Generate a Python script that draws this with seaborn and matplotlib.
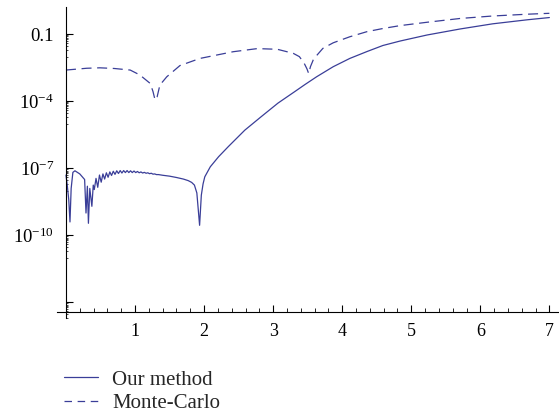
import numpy as np
import pandas as pd
import matplotlib
matplotlib.use("Agg")
import matplotlib.pyplot as plt
import matplotlib.ticker as mticker
from matplotlib.lines import Line2D
import seaborn as sns

# ---- data (log10 of the error) ----
ours_x = [0.000, 0.020, 0.040, 0.058, 0.075, 0.100, 0.130, 0.200, 0.270, 0.290,
          0.310, 0.325, 0.345, 0.375, 0.395,
          0.410, 0.435, 0.460, 0.485, 0.510, 0.535, 0.560, 0.585, 0.610, 0.635,
          0.660, 0.685, 0.710, 0.735, 0.760, 0.785, 0.810, 0.835, 0.860, 0.885,
          0.910, 0.935, 0.960, 0.985, 1.010, 1.035, 1.060, 1.085, 1.110, 1.135,
          1.160, 1.185, 1.210, 1.235, 1.260, 1.285, 1.310, 1.340, 1.400, 1.500,
          1.600, 1.700, 1.770, 1.820, 1.860, 1.895, 1.935, 1.960, 1.985, 2.010,
          2.090, 2.210, 2.350, 2.590, 2.830, 3.070, 3.320, 3.460, 3.630, 3.870,
          4.110, 4.360, 4.590, 4.840, 5.230, 5.710, 6.180, 6.680, 7.000]
ours_log = [-7.30, -7.80, -8.40, -9.40, -7.90, -7.18, -7.11, -7.25, -7.50, -9.00,
            -7.80, -9.46, -7.90, -8.70, -7.75,
            -7.95, -7.45, -7.85, -7.30, -7.62, -7.25, -7.48, -7.20, -7.40, -7.16,
            -7.32, -7.13, -7.27, -7.11, -7.23, -7.10, -7.21, -7.10, -7.19, -7.10,
            -7.19, -7.11, -7.19, -7.12, -7.19, -7.14, -7.20, -7.16, -7.21, -7.18,
            -7.22, -7.20, -7.24, -7.22, -7.26, -7.25, -7.28, -7.28, -7.31, -7.35,
            -7.41, -7.48, -7.55, -7.63, -7.75, -8.10, -9.55, -8.20, -7.70, -7.38,
            -6.93, -6.48, -6.03, -5.29, -4.68, -4.08, -3.55, -3.25, -2.90, -2.45,
            -2.08, -1.77, -1.50, -1.30, -1.03, -0.76, -0.53, -0.35, -0.25]

mc_x = [0.000, 0.300, 0.490, 0.700, 0.930, 1.070, 1.220, 1.260, 1.290, 1.320,
        1.360, 1.460, 1.650, 1.940, 2.420, 2.770, 3.060, 3.290, 3.380, 3.450,
        3.490, 3.515, 3.540, 3.580, 3.630, 3.720, 3.870, 4.110, 4.360, 4.590,
        4.840, 5.230, 5.710, 6.180, 6.680, 7.000]
mc_log = [-2.60, -2.52, -2.50, -2.53, -2.60, -2.82, -3.20, -3.56, -3.94, -3.80,
          -3.27, -2.90, -2.40, -2.08, -1.78, -1.64, -1.67, -1.85, -2.00, -2.30,
          -2.55, -2.76, -2.45, -2.15, -1.95, -1.63, -1.38, -1.11, -0.88, -0.74,
          -0.61, -0.46, -0.29, -0.18, -0.10, -0.06]

series_names = ["Our method", "Monte-Carlo"]
x_tick_vals = [1, 2, 3, 4, 5, 6, 7]
y_tick_exps = [-13, -10, -7, -4, -1]
y_tick_labels = ["", r"$10^{-10}$", r"$10^{-7}$", r"$10^{-4}$", "0.1"]

df = pd.concat([
    pd.DataFrame({"x": ours_x, "y": np.power(10.0, ours_log), "method": series_names[0]}),
    pd.DataFrame({"x": mc_x, "y": np.power(10.0, mc_log), "method": series_names[1]}),
], ignore_index=True)

sns.set_theme(style="white")
plt.rcParams["font.family"] = ["Liberation Serif", "DejaVu Serif"]
plt.rcParams["mathtext.fontset"] = "custom"
plt.rcParams["mathtext.rm"] = "Liberation Serif"
plt.rcParams["mathtext.it"] = "Liberation Serif:italic"
plt.rcParams["mathtext.bf"] = "Liberation Serif:bold"

color = "#3a3e98"
W, H = 559, 417
fig = plt.figure(figsize=(W / 100, H / 100), dpi=100)
ax = fig.add_axes([57 / W, 1 - 318 / H, (558 - 57) / W, (318 - 6.7) / H])

sns.lineplot(data=df, x="x", y="y", hue="method", style="method",
             palette=[color, color], dashes={series_names[0]: "", series_names[1]: (8, 4.5)},
             estimator=None, sort=False, linewidth=0.9, legend=False, ax=ax)

ax.set_yscale("log")
ax.set_xlim(-0.130, 7.125)
ax.set_ylim(10 ** -13.70, 10 ** 0.236)

for s in ["top", "right"]:
    ax.spines[s].set_visible(False)
ax.spines["left"].set_position(("data", 0))
ax.spines["bottom"].set_position(("data", 10 ** -13.42))
for s in ["left", "bottom"]:
    ax.spines[s].set_color("black")
    ax.spines[s].set_linewidth(0.8)

ax.set_xticks(x_tick_vals)
ax.set_xticklabels([str(v) for v in x_tick_vals])
ax.xaxis.set_minor_locator(mticker.FixedLocator(
    [v / 5 for v in range(1, 36) if v % 5 != 0]))
ax.set_yticks([10.0 ** e for e in y_tick_exps])
ax.set_yticklabels(y_tick_labels)
ax.yaxis.set_minor_locator(mticker.FixedLocator(
    [m * 10.0 ** (e - 1) for e in y_tick_exps for m in range(1, 10)]))
ax.yaxis.set_minor_formatter(mticker.NullFormatter())

ax.tick_params(axis="x", which="major", direction="in", length=5, width=0.8,
               colors="black", labelsize=13, pad=8, bottom=True)
ax.tick_params(axis="x", which="minor", direction="in", length=3, width=0.6,
               colors="black", bottom=True)
ax.tick_params(axis="y", which="major", direction="in", length=5, width=0.8,
               colors="black", labelsize=13.5, pad=8.5, left=True)
ax.tick_params(axis="y", which="minor", direction="in", length=1.5, width=0.5,
               colors="black", left=True)
ax.set_xlabel("")
ax.set_ylabel("")
ax.grid(False)

handles = [Line2D([], [], color=color, lw=0.9),
           Line2D([], [], color=color, lw=0.9, dashes=(6, 4.5))]
fig.legend(handles, series_names, loc="upper left",
           bbox_to_anchor=(64 / W, 1 - 370 / H), frameon=False, fontsize=15,
           handlelength=1.65, handletextpad=0.67, labelspacing=0.2,
           borderaxespad=0, borderpad=0)

fig.savefig("out.png", dpi=100, facecolor="white")
